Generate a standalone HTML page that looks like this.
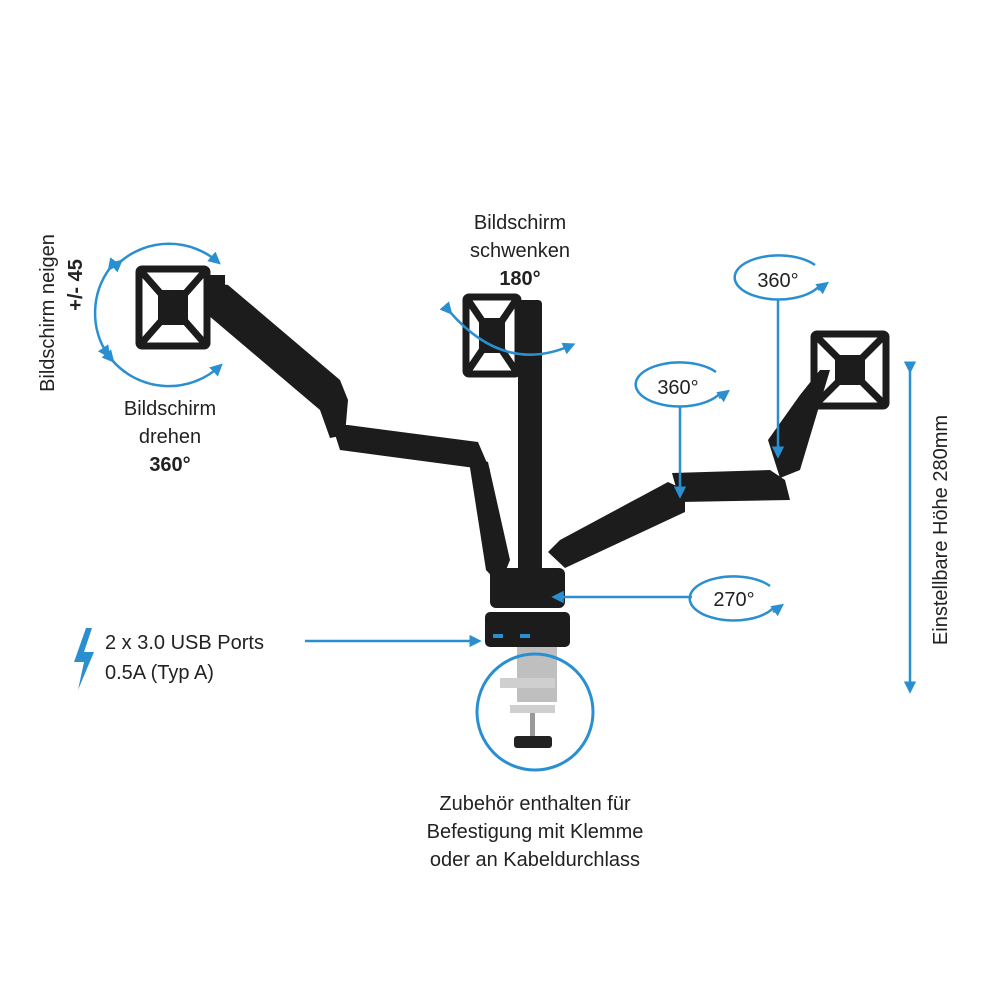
<!DOCTYPE html>
<html><head><meta charset="utf-8"><style>
html,body{margin:0;padding:0;background:#fff}
svg{display:block}
text{font-family:"Liberation Sans",sans-serif;fill:#222;font-size:20px}
</style></head><body>
<svg width="1000" height="1000" viewBox="0 0 1000 1000" xmlns="http://www.w3.org/2000/svg">
<defs>
<marker id="ah" markerWidth="5" markerHeight="5" refX="3.5" refY="2.5" orient="auto" markerUnits="strokeWidth"><path d="M0,0 L5,2.5 L0,5 z" fill="#2a8fd0"/></marker>
</defs>
<path d="M86,628 L74,662 L84,662 L78,690 L94,652 L84,652 L92,628 z" fill="#2a8fd0"/>
<g fill="#1c1c1c">
<rect x="518" y="300" width="24" height="290" rx="4"/>
<path d="M208,282 L228,285 L340,380 L348,400 L345,435 L330,438 L320,410 L208,315 z"/>
<path d="M332,425 L348,425 L478,442 L490,470 L475,468 L340,450 z"/>
<path d="M468,455 L488,462 L510,560 L500,585 L486,570 z"/>
<path d="M548,552 L560,540 L668,482 L685,490 L685,512 L565,568 z"/>
<path d="M672,473 L770,470 L785,480 L790,500 L680,502 z"/>
<path d="M768,440 L800,395 L820,370 L830,370 L800,470 L780,478 z"/>
<rect x="490" y="568" width="75" height="40" rx="6"/>
<rect x="485" y="612" width="85" height="35" rx="5"/>
</g>
<g fill="none" stroke="#1c1c1c" stroke-width="7">
<rect x="139" y="269" width="68" height="77" rx="3"/>
<path d="M140,270 L206,345 M206,270 L140,345"/>
<rect x="466" y="297" width="52" height="77" rx="3"/>
<path d="M466,297 L518,374 M518,297 L466,374"/>
<rect x="814" y="334" width="72" height="72" rx="3"/>
<path d="M814,334 L886,406 M886,334 L814,406"/>
</g>
<rect x="158" y="290" width="30" height="35" fill="#1c1c1c"/>
<rect x="479" y="318" width="26" height="35" fill="#1c1c1c"/>
<rect x="835" y="355" width="30" height="30" fill="#1c1c1c"/>
<rect x="205" y="275" width="20" height="40" fill="#1c1c1c"/>
<rect x="517" y="647" width="40" height="55" fill="#bfbfbf"/>
<rect x="500" y="678" width="55" height="10" fill="#cfcfcf"/>
<rect x="510" y="705" width="45" height="8" fill="#cfcfcf"/>
<rect x="530" y="713" width="5" height="25" fill="#999"/>
<rect x="514" y="736" width="38" height="12" rx="3" fill="#222"/>
<rect x="493" y="634" width="10" height="4" fill="#2a8fd0"/>
<rect x="520" y="634" width="10" height="4" fill="#2a8fd0"/>
<g fill="none" stroke="#2a8fd0" stroke-width="2.5">
<path d="M120,262 A75,75 0 0 1 218,262" marker-start="url(#ah)" marker-end="url(#ah)"/>
<path d="M112,360 A75,75 0 0 0 220,366" marker-start="url(#ah)" marker-end="url(#ah)"/>
<path d="M110,268 A75,75 0 0 0 108,355" marker-start="url(#ah)" marker-end="url(#ah)"/>
<path d="M450,312 Q505,375 572,345" marker-start="url(#ah)" marker-end="url(#ah)"/>
<path d="M820,285 A44,22 0 1 1 815,265"/>
<path d="M818,290 l8,-6" marker-end="url(#ah)"/>
<path d="M721,392 A44,22 0 1 1 716,372"/>
<path d="M719,398 l8,-6" marker-end="url(#ah)"/>
<path d="M775,606 A44,22 0 1 1 770,586"/>
<path d="M773,612 l8,-6" marker-end="url(#ah)"/>
<line x1="778" y1="300" x2="778" y2="455" marker-end="url(#ah)"/>
<line x1="680" y1="407" x2="680" y2="495" marker-end="url(#ah)"/>
<line x1="692" y1="597" x2="555" y2="597" marker-end="url(#ah)"/>
<line x1="305" y1="641" x2="478" y2="641" marker-end="url(#ah)"/>
<line x1="910" y1="370" x2="910" y2="690" marker-start="url(#ah)" marker-end="url(#ah)"/>
<circle cx="535" cy="712" r="58" stroke-width="3"/>
</g>
<text transform="translate(54,313) rotate(-90)" text-anchor="middle">Bildschirm neigen</text>
<text transform="translate(82,285) rotate(-90)" text-anchor="middle" font-weight="bold">+/- 45</text>
<g text-anchor="middle">
<text x="170" y="415">Bildschirm</text>
<text x="170" y="443">drehen</text>
<text x="170" y="471" font-weight="bold">360°</text>
<text x="520" y="229">Bildschirm</text>
<text x="520" y="257">schwenken</text>
<text x="520" y="285" font-weight="bold">180°</text>
<text x="778" y="287">360°</text>
<text x="678" y="394">360°</text>
<text x="734" y="606">270°</text>
<text x="535" y="810">Zubehör enthalten für</text>
<text x="535" y="838">Befestigung mit Klemme</text>
<text x="535" y="866">oder an Kabeldurchlass</text>
</g>
<text x="105" y="649">2 x 3.0 USB Ports</text>
<text x="105" y="679">0.5A (Typ A)</text>
<text transform="translate(947,530) rotate(-90)" text-anchor="middle">Einstellbare Höhe 280mm</text>
</svg>
</body></html>
